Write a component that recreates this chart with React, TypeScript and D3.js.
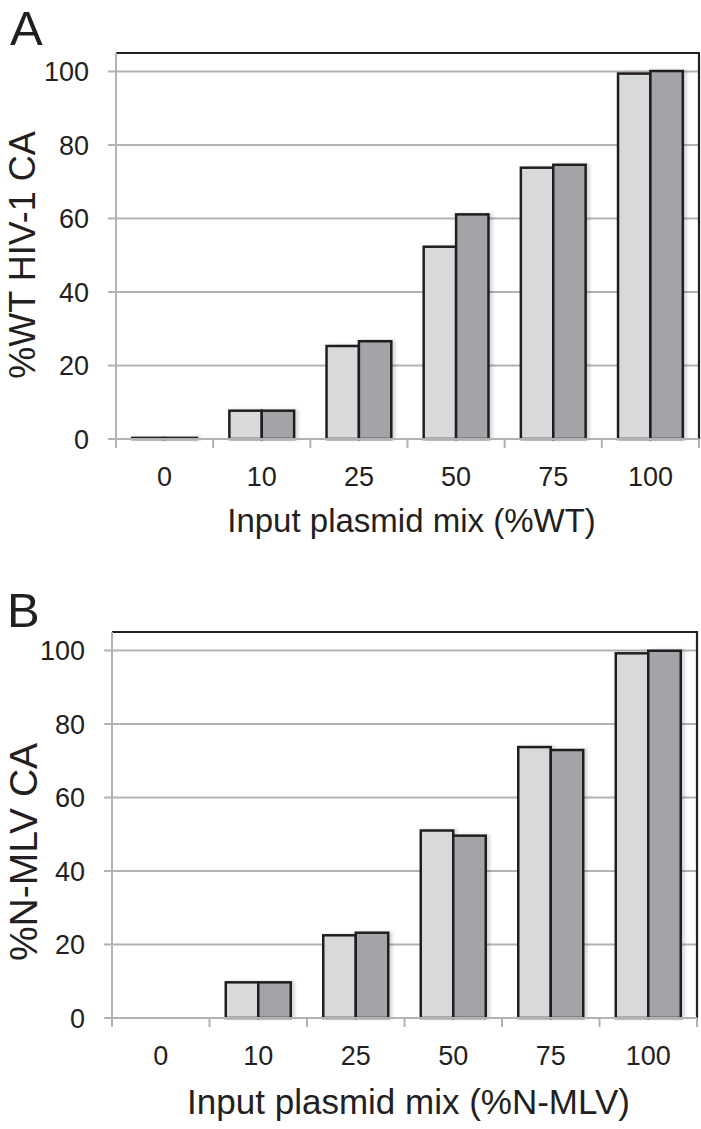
import React from "react";
import * as d3 from "d3";

const categories = ["0", "10", "25", "50", "75", "100"];
const yTicks = [0, 20, 40, 60, 80, 100];

const panelALight = [0.3, 7.7, 25.3, 52.3, 73.8, 99.4];
const panelADark = [0.3, 7.7, 26.6, 61.1, 74.6, 100.1];
const panelBLight = [0, 9.7, 22.5, 51.0, 73.7, 99.2];
const panelBDark = [0, 9.7, 23.2, 49.6, 72.9, 99.9];

const panels = [
  {
    letter: "A",
    yTitle: "%WT HIV-1 CA",
    xTitle: "Input plasmid mix (%WT)",
    light: panelALight,
    dark: panelADark,
    left: 116,
    right: 699,
    top: 53,
    bottom: 439,
    letterX: 10,
    letterY: 45,
    yTitleSize: 36,
    yTitleCenter: 255,
    yTitleX: 35,
    xTitleSize: 33,
    xTitleDy: 93,
  },
  {
    letter: "B",
    yTitle: "%N-MLV CA",
    xTitle: "Input plasmid mix (%N-MLV)",
    light: panelBLight,
    dark: panelBDark,
    left: 112,
    right: 697,
    top: 632,
    bottom: 1018,
    letterX: 7,
    letterY: 627,
    yTitleSize: 39,
    yTitleCenter: 852,
    yTitleX: 37,
    xTitleSize: 35,
    xTitleDy: 96,
  },
];

const FONT = "'Liberation Sans', Arial, Helvetica, sans-serif";
const TEXT = "#231f20";
const GRID = "#b1b2b4";
const LIGHT = "#d8d9db";
const DARK = "#a3a4a7";

function Panel({ p }: { p: (typeof panels)[number] }) {
  const y = d3.scaleLinear().domain([0, 105]).range([p.bottom, p.top]);
  const x = d3.scaleBand<string>().domain(categories).range([p.left, p.right]).padding(0);
  const bw = x.bandwidth();
  const sub = d3
    .scaleBand<string>()
    .domain(["light", "dark"])
    .range([bw / 6, (bw * 5) / 6])
    .padding(0);
  const series = [
    { key: "light", values: p.light, fill: LIGHT },
    { key: "dark", values: p.dark, fill: DARK },
  ];
  const boundaries = d3.range(categories.length + 1).map((i) => p.left + i * bw);
  return (
    <g>
      <text x={p.letterX} y={p.letterY} fontSize={49} fontFamily={FONT} fill={TEXT}>
        {p.letter}
      </text>
      {yTicks.slice(1).map((t) => (
        <line key={t} x1={p.left - 8} x2={p.right} y1={y(t)} y2={y(t)} stroke={GRID} strokeWidth={2} />
      ))}
      <line x1={p.left} x2={p.right + 1} y1={p.top} y2={p.top} stroke={TEXT} strokeWidth={2.2} />
      <line x1={p.right} x2={p.right} y1={p.top} y2={p.bottom} stroke={TEXT} strokeWidth={2.2} />
      <g filter="url(#shadow)">
        {series.map((s) =>
          s.values.map((v, i) =>
            v > 0 ? (
              <rect
                key={s.key + i}
                x={(x(categories[i]) as number) + (sub(s.key) as number)}
                y={y(v)}
                width={sub.bandwidth()}
                height={y(0) - y(v)}
                fill={s.fill}
                stroke={TEXT}
                strokeWidth={2.5}
              />
            ) : null
          )
        )}
      </g>
      <line x1={p.left} x2={p.left} y1={p.top} y2={p.bottom} stroke={GRID} strokeWidth={2} />
      <line x1={p.left - 8} x2={p.right} y1={p.bottom} y2={p.bottom} stroke={GRID} strokeWidth={2} />
      {boundaries.map((bx, i) => (
        <line key={i} x1={bx} x2={bx} y1={p.bottom} y2={p.bottom + 9} stroke={GRID} strokeWidth={2} />
      ))}
      {yTicks.map((t) => (
        <text
          key={t}
          x={p.left - 27}
          y={y(t)}
          dy="0.36em"
          textAnchor="end"
          fontSize={27}
          fontFamily={FONT}
          fill={TEXT}
        >
          {t}
        </text>
      ))}
      {categories.map((c) => (
        <text
          key={c}
          x={(x(c) as number) + bw / 2}
          y={p.bottom + 47}
          textAnchor="middle"
          fontSize={27}
          fontFamily={FONT}
          fill={TEXT}
        >
          {c}
        </text>
      ))}
      <text
        x={(p.left + p.right) / 2 + 4}
        y={p.bottom + p.xTitleDy}
        textAnchor="middle"
        fontSize={p.xTitleSize}
        fontFamily={FONT}
        fill={TEXT}
      >
        {p.xTitle}
      </text>
      <text
        transform={`translate(${p.yTitleX},${p.yTitleCenter}) rotate(-90)`}
        textAnchor="middle"
        fontSize={p.yTitleSize}
        fontFamily={FONT}
        fill={TEXT}
      >
        {p.yTitle}
      </text>
    </g>
  );
}

export default function App() {
  return (
    <svg
      width={701}
      height={1129}
      style={{ position: "absolute", left: 0, top: 0, background: "#ffffff" }}
    >
      <defs>
        <filter id="shadow" x="-20%" y="-20%" width="140%" height="140%">
          <feDropShadow dx={3} dy={0} stdDeviation={1.5} floodColor="#000" floodOpacity={0.15} />
        </filter>
      </defs>
      <rect width={701} height={1129} fill="#fff" />
      {panels.map((p) => (
        <Panel key={p.letter} p={p} />
      ))}
    </svg>
  );
}
